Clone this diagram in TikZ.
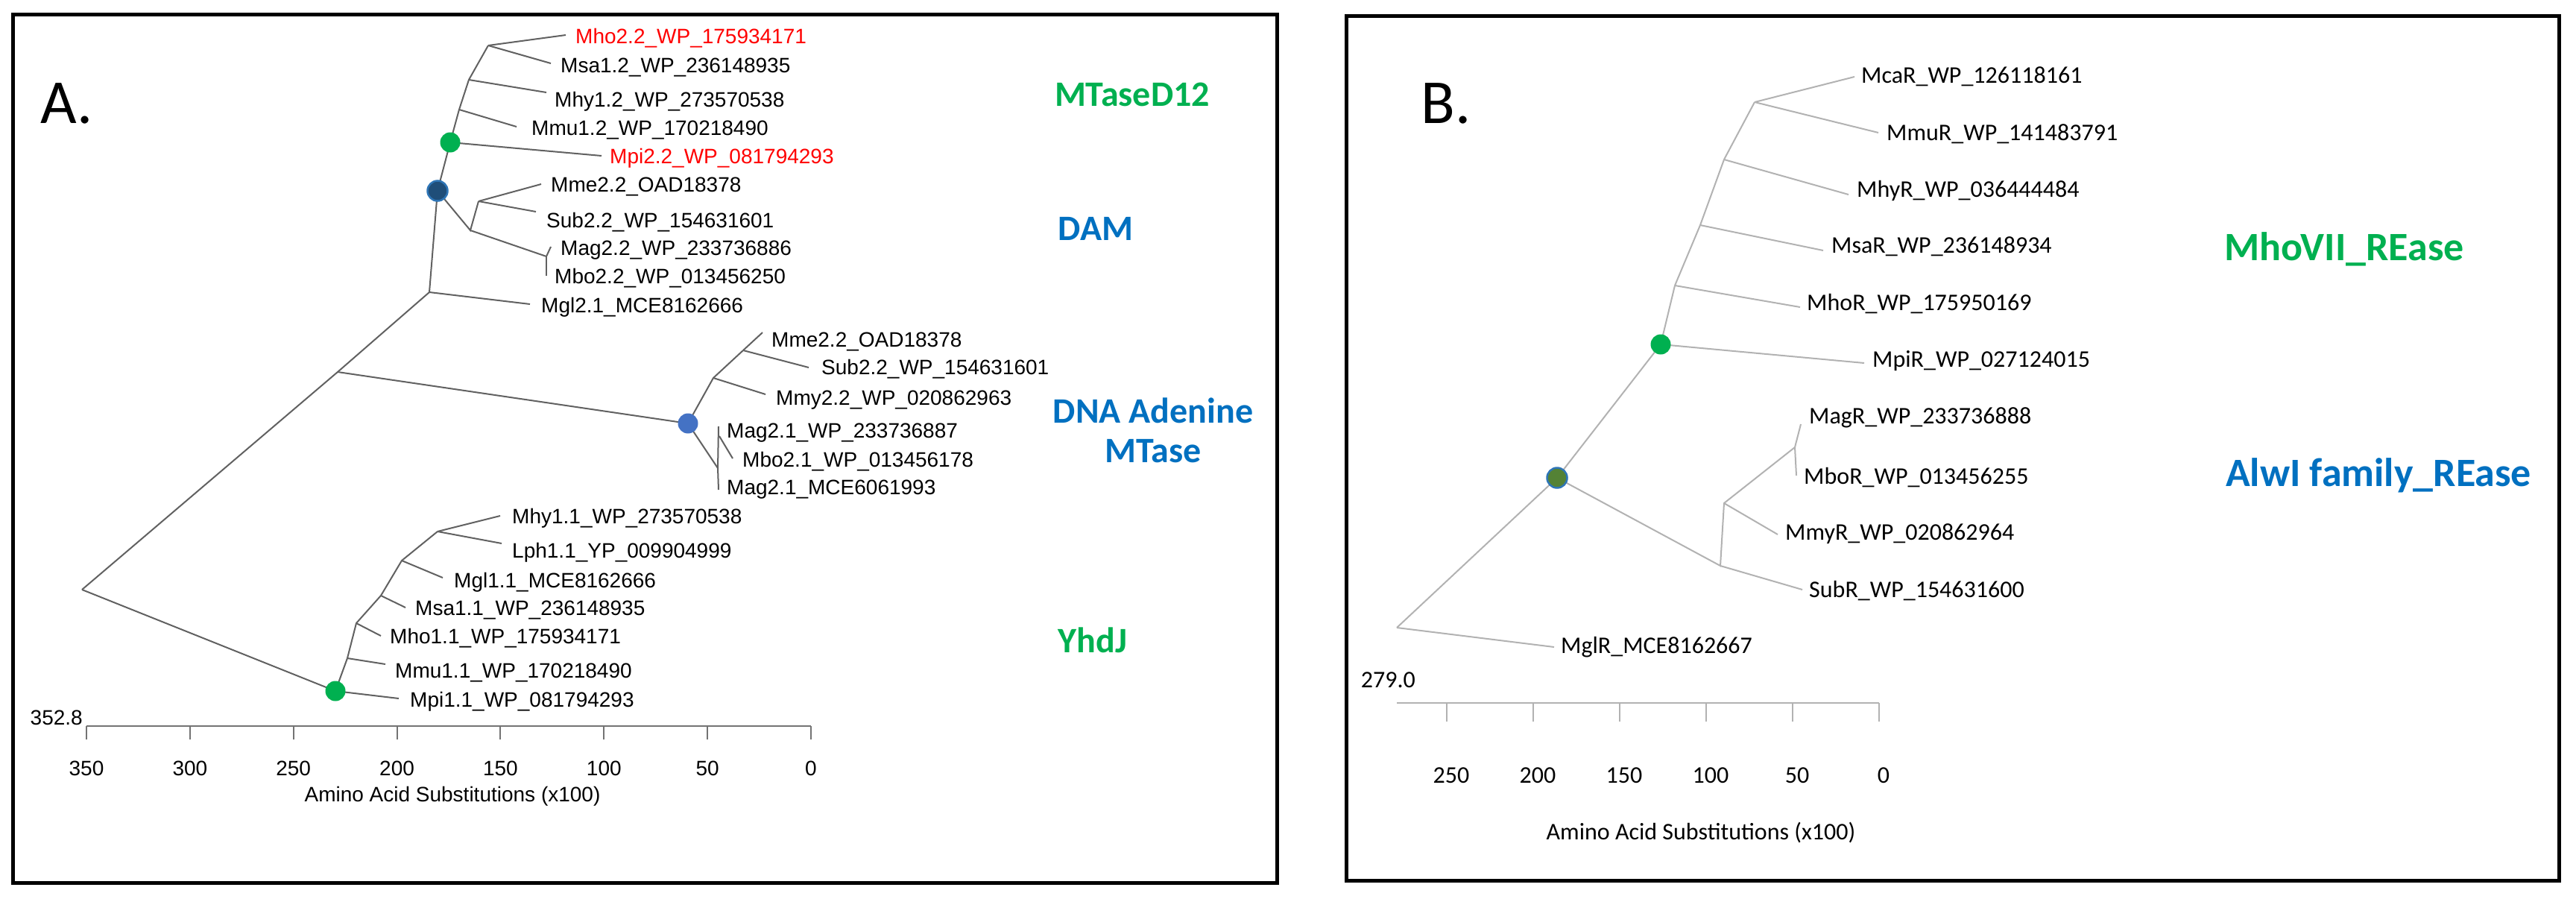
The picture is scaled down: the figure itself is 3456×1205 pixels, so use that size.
\documentclass[tikz,border=0pt]{standalone}
\usepackage{fontspec}
\setmainfont{Liberation Sans}
\newfontfamily\calfont{Carlito}
\definecolor{grpgreen}{HTML}{00B050}
\definecolor{grpblue}{HTML}{0070C0}
\definecolor{navy}{HTML}{1F4E79}
\definecolor{ringblue}{HTML}{2E75B6}
\definecolor{midblue}{HTML}{4472C4}
\definecolor{olive}{HTML}{548235}
\begin{document}
\begin{tikzpicture}[x=1pt,y=-1pt,
  lblA/.style={anchor=base west, inner sep=0pt, font=\fontsize{28}{30}\selectfont},
  lblB/.style={anchor=base west, inner sep=0pt, font=\calfont\fontsize{32}{34}\selectfont},
  brA/.style={draw=black!62, line width=2pt},
  brB/.style={draw=black!30, line width=2pt},
  panelbox/.style={draw=black, line width=5pt},
  dotstyle/.style={circle, inner sep=0pt, minimum size=27pt},
  grp/.style={inner sep=0pt, align=center, font=\calfont\bfseries\fontsize{48}{53}\selectfont},
  grpB/.style={inner sep=0pt, align=center, font=\calfont\bfseries\fontsize{54}{58}\selectfont},
  letter/.style={inner sep=0pt, font=\calfont\fontsize{84}{90}\selectfont},
  tickA/.style={inner sep=0pt, font=\fontsize{28}{30}\selectfont},
  tickB/.style={inner sep=0pt, font=\calfont\fontsize{32}{34}\selectfont},
  axA/.style={draw=black!55, line width=2pt},
  axB/.style={draw=black!30, line width=2pt}
]
\useasboundingbox (0,0) rectangle (3456,1205);

% ================= Panel A =================
\draw[panelbox] (17,19) rectangle (1713,1184);
\node[letter] (labA) at (90,139) {A.};

% tree nodes
\coordinate (rA) at (110,791);
\coordinate (vA) at (453,499);
\coordinate (wA) at (576,392);
\coordinate (d1) at (587,256);
\coordinate (g1) at (604,191);
\coordinate (n3) at (616,147);
\coordinate (n2) at (629,107);
\coordinate (n1) at (655,61);
\coordinate (xA) at (631,309);
\coordinate (yA) at (642,270);
\coordinate (zA) at (733,344);
% tips
\coordinate (t1) at (759,47);
\coordinate (t2) at (739,85);
\coordinate (t3) at (733,124);
\coordinate (t4) at (693,170);
\coordinate (t5) at (807,209);
\coordinate (t6) at (726,247);
\coordinate (t7) at (719,284);
\coordinate (t8) at (739,331);
\coordinate (t9) at (733,370);
\coordinate (t10) at (711,408);

\draw[brA] (rA) -- (vA) -- (wA) -- (d1) -- (g1) -- (n3) -- (n2) -- (n1);
\draw[brA] (n1) -- (t1);
\draw[brA] (n1) -- (t2);
\draw[brA] (n2) -- (t3);
\draw[brA] (n3) -- (t4);
\draw[brA] (g1) -- (t5);
\draw[brA] (d1) -- (xA) -- (yA);
\draw[brA] (yA) -- (t6);
\draw[brA] (yA) -- (t7);
\draw[brA] (xA) -- (zA);
\draw[brA] (zA) -- (t8);
\draw[brA] (zA) -- (t9);
\draw[brA] (wA) -- (t10);

\node[lblA, text=red] (l1) at (772,58) {Mho2.2\_WP\_175934171};
\node[lblA] (l2) at (752,97) {Msa1.2\_WP\_236148935};
\node[lblA] (l3) at (744,143) {Mhy1.2\_WP\_273570538};
\node[lblA] (l4) at (713,181) {Mmu1.2\_WP\_170218490};
\node[lblA, text=red] (l5) at (818,219) {Mpi2.2\_WP\_081794293};
\node[lblA] (l6) at (739,257) {Mme2.2\_OAD18378};
\node[lblA] (l7) at (733,305) {Sub2.2\_WP\_154631601};
\node[lblA] (l8) at (752,342) {Mag2.2\_WP\_233736886};
\node[lblA] (l9) at (744,380) {Mbo2.2\_WP\_013456250};
\node[lblA] (l10) at (726,419) {Mgl2.1\_MCE8162666};

% DNA adenine cluster
\coordinate (b2) at (923,568);
\coordinate (pA) at (957,507);
\coordinate (qA) at (997,470);
\coordinate (rR) at (963,628);
\coordinate (sA) at (965,585);
\coordinate (t11) at (1023,446);
\coordinate (t12) at (1085,493);
\coordinate (t13) at (1027,529);
\coordinate (t14) at (964,572);
\coordinate (t15) at (983,615);
\coordinate (t16) at (964,657);

\draw[brA] (vA) -- (b2) -- (pA) -- (qA);
\draw[brA] (qA) -- (t11);
\draw[brA] (qA) -- (t12);
\draw[brA] (pA) -- (t13);
\draw[brA] (b2) -- (rR);
\draw[brA] (rR) -- (t14);
\draw[brA] (rR) -- (t16);
\draw[brA] (sA) -- (t15);

\node[lblA] (l11) at (1035,465) {Mme2.2\_OAD18378};
\node[lblA] (l12) at (1102,502) {Sub2.2\_WP\_154631601};
\node[lblA] (l13) at (1041,543) {Mmy2.2\_WP\_020862963};
\node[lblA] (l14) at (975,587) {Mag2.1\_WP\_233736887};
\node[lblA] (l15) at (996,626) {Mbo2.1\_WP\_013456178};
\node[lblA] (l16) at (975,663) {Mag2.1\_MCE6061993};

% YhdJ cluster
\coordinate (g2) at (450,927);
\coordinate (a5) at (466,883);
\coordinate (a4) at (478,836);
\coordinate (a3) at (511,799);
\coordinate (a2) at (539,752);
\coordinate (a1) at (587,713);
\coordinate (u1) at (671,692);
\coordinate (u2) at (673,729);
\coordinate (u3) at (594,775);
\coordinate (u4) at (544,815);
\coordinate (u5) at (511,853);
\coordinate (u6) at (517,891);
\coordinate (u7) at (535,937);

\draw[brA] (rA) -- (g2) -- (a5) -- (a4) -- (a3) -- (a2) -- (a1);
\draw[brA] (a1) -- (u1);
\draw[brA] (a1) -- (u2);
\draw[brA] (a2) -- (u3);
\draw[brA] (a3) -- (u4);
\draw[brA] (a4) -- (u5);
\draw[brA] (a5) -- (u6);
\draw[brA] (g2) -- (u7);

\node[lblA] (m1l) at (687,702) {Mhy1.1\_WP\_273570538};
\node[lblA] (m2l) at (687,748) {Lph1.1\_YP\_009904999};
\node[lblA] (m3l) at (609,788) {Mgl1.1\_MCE8162666};
\node[lblA] (m4l) at (557,825) {Msa1.1\_WP\_236148935};
\node[lblA] (m5l) at (523,863) {Mho1.1\_WP\_175934171};
\node[lblA] (m6l) at (530,909) {Mmu1.1\_WP\_170218490};
\node[lblA] (m7l) at (550,948) {Mpi1.1\_WP\_081794293};

% dots A
\node[dotstyle, fill=grpgreen] (g1dot) at (g1) {};
\node[dotstyle, fill=navy, draw=ringblue, line width=2.5pt] (d1dot) at (d1) {};
\node[dotstyle, fill=midblue] (b2dot) at (b2) {};
\node[dotstyle, fill=grpgreen] (g2dot) at (g2) {};

% axis A
\coordinate (axA0) at (116,974);
\coordinate (axA1) at (1088,974);
\draw[axA] (axA0) -- (axA1);
\foreach \v [count=\i from 0] in {350,300,250,200,150,100,50,0} {
  \pgfmathsetmacro{\xx}{116+\i*138.857}
  \draw[axA] (\xx,974) -- (\xx,992);
  \node[tickA] (tA\i) at (\xx,1031) {\v};
}
\node[tickA, anchor=base east] (scA) at (111,972) {352.8};
\node[tickA] (titA) at (607,1068) {Amino Acid Substitutions (x100)};

% group labels A
\node[grp, text=grpgreen] (gMT) at (1519,127) {MTaseD12};
\node[grp, text=grpblue] (gDAM) at (1470,307) {DAM};
\node[grp, text=grpblue] (gDNA) at (1547,577) {DNA Adenine\\MTase};
\node[grp, text=grpgreen] (gY) at (1466,859) {YhdJ};

% ================= Panel B =================
\draw[panelbox] (1806,21) rectangle (3433,1181);
\node[letter] (labB) at (1940,139) {B.};

\coordinate (rB) at (1874,842);
\coordinate (bB) at (2089,641);
\coordinate (gB) at (2228,462);
\coordinate (mB4) at (2247,383);
\coordinate (mB3) at (2281,302);
\coordinate (mB2) at (2313,214);
\coordinate (mB1) at (2354,137);
\coordinate (kB3) at (2308,759);
\coordinate (kB2) at (2313,675);
\coordinate (kB1) at (2408,600);
\coordinate (s1) at (2488,103);
\coordinate (s2) at (2520,178);
\coordinate (s3) at (2480,261);
\coordinate (s4) at (2446,336);
\coordinate (s5) at (2415,412);
\coordinate (s6) at (2501,487);
\coordinate (s7) at (2416,569);
\coordinate (s8) at (2410,638);
\coordinate (s9) at (2385,717);
\coordinate (s10) at (2418,791);
\coordinate (s11) at (2085,868);

\draw[brB] (rB) -- (bB) -- (gB) -- (mB4) -- (mB3) -- (mB2) -- (mB1);
\draw[brB] (mB1) -- (s1);
\draw[brB] (mB1) -- (s2);
\draw[brB] (mB2) -- (s3);
\draw[brB] (mB3) -- (s4);
\draw[brB] (mB4) -- (s5);
\draw[brB] (gB) -- (s6);
\draw[brB] (bB) -- (kB3) -- (kB2) -- (kB1);
\draw[brB] (kB1) -- (s7);
\draw[brB] (kB1) -- (s8);
\draw[brB] (kB2) -- (s9);
\draw[brB] (kB3) -- (s10);
\draw[brB] (rB) -- (s11);

\node[lblB] (k1l) at (2497,111) {McaR\_WP\_126118161};
\node[lblB] (k2l) at (2531,188) {MmuR\_WP\_141483791};
\node[lblB] (k3l) at (2491,264) {MhyR\_WP\_036444484};
\node[lblB] (k4l) at (2457,339) {MsaR\_WP\_236148934};
\node[lblB] (k5l) at (2424,416) {MhoR\_WP\_175950169};
\node[lblB] (k6l) at (2512,492) {MpiR\_WP\_027124015};
\node[lblB] (k7l) at (2427,568) {MagR\_WP\_233736888};
\node[lblB] (k8l) at (2420,649) {MboR\_WP\_013456255};
\node[lblB] (k9l) at (2395,724) {MmyR\_WP\_020862964};
\node[lblB] (k10l) at (2427,801) {SubR\_WP\_154631600};
\node[lblB] (k11l) at (2094,876) {MglR\_MCE8162667};

\node[dotstyle, fill=grpgreen] (gBdot) at (gB) {};
\node[dotstyle, fill=olive, draw=ringblue, line width=2.5pt] (bBdot) at (bB) {};

% axis B
\coordinate (axB0) at (1874,943);
\coordinate (axB1) at (2521,943);
\draw[axB] (axB0) -- (axB1);
\foreach \v [count=\i from 0] in {250,200,150,100,50,0} {
  \pgfmathsetmacro{\xx}{1941+\i*116}
  \draw[axB] (\xx,943) -- (\xx,968);
  \node[tickB] (tB\i) at (\xx+6,1040) {\v};
}
\node[tickB, anchor=base east] (scB) at (1899,922) {279.0};
\node[tickB] (titB) at (2282,1117) {Amino Acid Substitutions (x100)};

\node[grpB, text=grpgreen] (gMho) at (3145,334) {MhoVII\_REase};
\node[grpB, text=grpblue] (gAlw) at (3191,638) {AlwI family\_REase};
\end{tikzpicture}
\end{document}
